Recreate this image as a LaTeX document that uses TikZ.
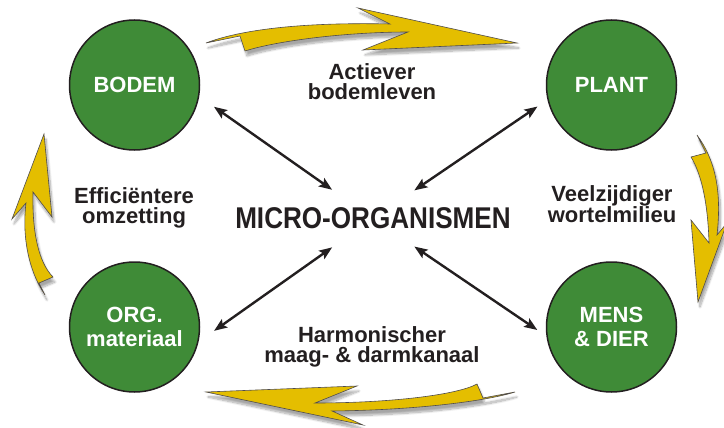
\documentclass[tikz,border=0pt]{standalone}
\usepackage{fontspec}
\setmainfont{Liberation Sans}
\newfontfamily\condfont{Liberation Sans}[FakeStretch=0.87]
\usetikzlibrary{arrows.meta,shadows.blur}
\definecolor{leafgreen}{RGB}{63,139,55}
\definecolor{gold}{RGB}{228,190,0}
\definecolor{ink}{RGB}{35,31,32}

\begin{document}
\begin{tikzpicture}[%
    x=1pt, y=-1pt,                 % work in picture pixels, y pointing down
    >={Stealth[length=13pt, width=10pt, inset=2.5pt]},
    ]
% -------------------------------------------------
% Styles for the discs, labels and connectors
\tikzset{
  disc/.style={circle, draw=ink, line width=1.5pt, fill=leafgreen,
    minimum size=130pt, inner sep=0pt, align=center, text=white,
    font=\bfseries\fontsize{22}{24}\selectfont},
  lbl/.style={align=center, text=ink, font=\bfseries\fontsize{22}{20}\selectfont},
  link/.style={<->, draw=ink, line width=2.4pt, shorten <=50pt},
  swoosh/.style={fill=gold, draw=ink!80, line width=0.6pt,
    blur shadow={shadow xshift=2pt, shadow yshift=-5pt,
      shadow blur steps=10, shadow opacity=35}}
}
\useasboundingbox (0,0) rectangle (724,428);
% -------------------------------------------------
% The four discs and the hub
\node [disc] (bodem) at (134.5,85)  {BODEM};
\node [disc] (plant) at (611.5,85)  {PLANT};
\node [disc] (org)   at (134.5,327) {ORG.\\materiaal};
\node [disc] (mens)  at (611.5,327) {MENS\\\& DIER};
\node [text=ink, font=\condfont\bfseries\fontsize{30}{30}\selectfont]
  (micro) at (373,218.5) {MICRO-ORGANISMEN};

% Labels between the discs
\node [lbl] (actief) at (372,82)    {Actiever\\bodemleven};
\node [lbl] (omzet)  at (134,208)   {Efficiëntere\\omzetting};
\node [lbl] (wortel) at (612,204)   {Veelzijdiger\\wortelmilieu};
\node [lbl] (darm)   at (372,346.5) {Harmonischer\\maag- \& darmkanaal};

% Double arrows from the hub to each disc
\draw [link, shorten >=18pt] (micro.center) -- (bodem.-10.5);
\draw [link, shorten >=12pt] (micro.center) -- (plant.193.4);
\draw [link, shorten >=19pt] (micro.center) -- (org.-13.3);
\draw [link, shorten >=11pt] (micro.center) -- (mens.188.9);

% -------------------------------------------------
% Yellow swooshes running clockwise round the cycle
\path [swoosh] (206,43) .. controls (240,30) and (300,22) .. (390,24)
  -- (358,8) -- (517,43) -- (363,50) -- (408,32)
  .. controls (350,32) and (280,40) .. (245,51) -- (240,36) -- cycle;
\path [swoosh] (697,135) .. controls (715,160) and (722,190) .. (717,235)
  -- (727,223) -- (698,302) -- (691,220) -- (709,243)
  .. controls (708,205) and (702,175) .. (691,157) -- (706,153) -- cycle;
\path [swoosh] (206,392) -- (357,386) -- (315,403)
  .. controls (390,403) and (457,395) .. (477,384) -- (483,398) -- (515,392)
  .. controls (490,400) and (423,410) .. (332,411) -- (363,425) -- cycle;
\path [swoosh] (44,134) -- (52,217) -- (33,192)
  .. controls (32,230) and (38,262) .. (53,277) -- (39,283) -- (45,295)
  .. controls (28,270) and (22,235) .. (26,203) -- (12,219) -- cycle;
% -------------------------------------------------
\end{tikzpicture}
\end{document}
